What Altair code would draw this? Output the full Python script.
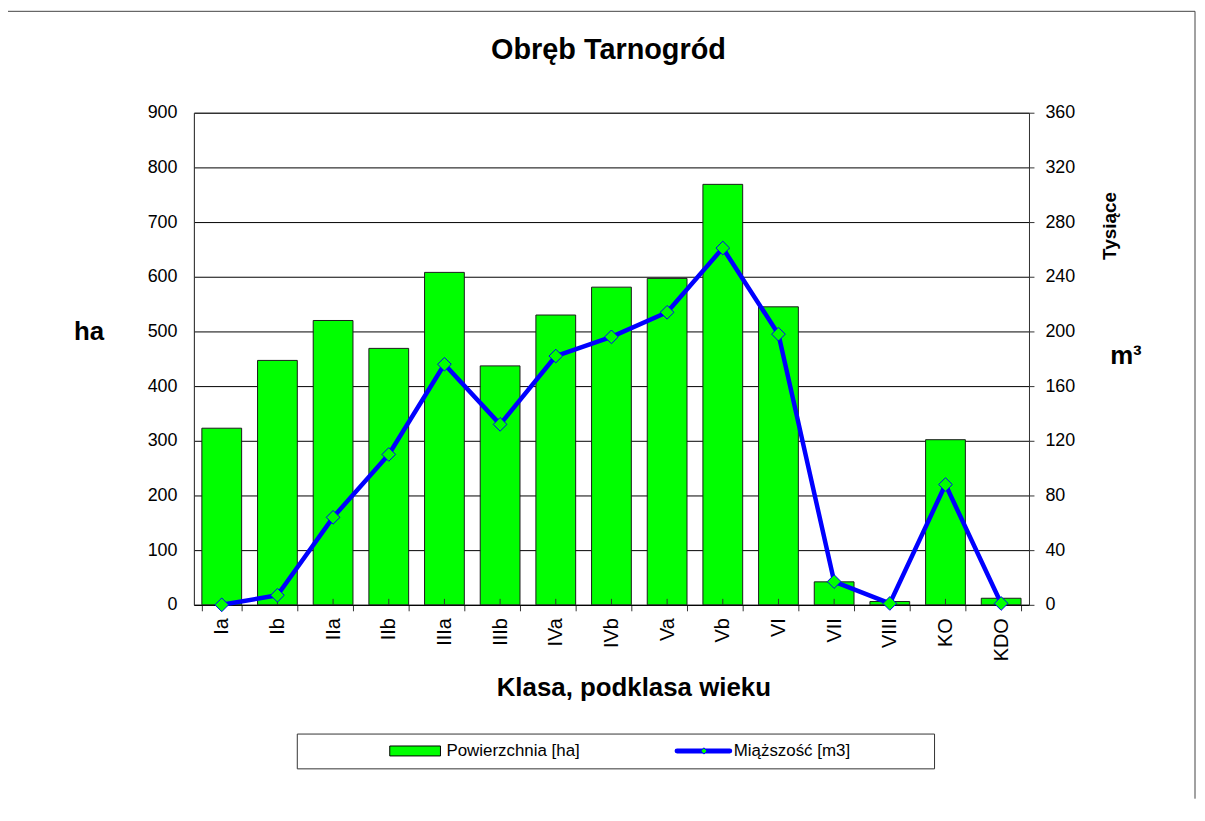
import altair as alt
import pandas as pd

categories = ["Ia", "Ib", "IIa", "IIb", "IIIa", "IIIb", "IVa", "IVb", "Va", "Vb", "VI", "VII", "VIII", "KO", "KDO"]
area_ha = [323, 447, 520, 469, 608, 437, 530, 581, 597, 769, 545, 42, 6, 302, 12]
volume_thousand_m3 = [0, 7, 64, 110, 176, 132, 182, 196, 214, 261, 198, 17, 1, 88, 1]
left_ticks = [0, 100, 200, 300, 400, 500, 600, 700, 800, 900]
right_ticks = [0, 40, 80, 120, 160, 200, 240, 280, 320, 360]

title_text = "Obręb Tarnogród"
x_title = "Klasa, podklasa wieku"
left_title = "ha"
right_title = "m³"
right_units = "Tysiące"
legend_bar = "Powierzchnia [ha]"
legend_line = "Miąższość [m3]"

df = pd.DataFrame({"klasa": categories, "ha": area_ha, "m3": volume_thousand_m3})
one = pd.DataFrame({"k": [0]})

W, H = 840, 495
FONT = "Liberation Sans"
GREEN = "#00FF00"
BLUE = "#0000FF"

x_scale = alt.Scale(paddingInner=0.2857, paddingOuter=0.1429)

bars = alt.Chart(df).mark_bar(fill=GREEN, stroke="#1a1a1a", strokeWidth=1).encode(
    x=alt.X("klasa:N", sort=categories, scale=x_scale, title=x_title,
            axis=alt.Axis(titleFontSize=26, titleFontWeight="bold", titleX=442, titleY=91,
                          titleAlign="center", titleBaseline="alphabetic",
                          labelAngle=270, labelAlign="right", labelBaseline="middle",
                          labelFontSize=20, labelPadding=7, tickSize=6, tickBand="extent",
                          tickColor="#333333", domainColor="#000000", grid=False)),
    y=alt.Y("ha:Q", scale=alt.Scale(domain=[0, 900], nice=False), title=left_title,
            axis=alt.Axis(values=left_ticks, titleAngle=0, titleX=-106, titleY=228,
                          titleAlign="center", titleBaseline="alphabetic", titleFontSize=26,
                          titleFontWeight="bold", grid=True, gridColor="#000000", gridWidth=1,
                          ticks=False, tickSize=0, labelPadding=17, labelFontSize=18,
                          domainColor="#333333")),
)

center_ticks = alt.Chart(df).mark_rule(color="#333333", strokeWidth=1).encode(
    x=alt.X("klasa:N", sort=categories, title=x_title),
    y=alt.value(H),
    y2=alt.value(H - 6),
)

line = alt.Chart(df).mark_line(
    color=BLUE, strokeWidth=4.5, strokeJoin="round",
    point=alt.OverlayMarkDef(shape="diamond", filled=True, fill=GREEN, stroke=BLUE,
                             strokeWidth=1, size=190, opacity=1),
).encode(
    x=alt.X("klasa:N", sort=categories, title=x_title),
    y=alt.Y("m3:Q", scale=alt.Scale(domain=[0, 360], nice=False), title=right_title,
            axis=alt.Axis(orient="right", values=right_ticks, titleAngle=0, titleX=97, titleY=252,
                          titleAlign="center", titleBaseline="alphabetic", titleFontSize=26,
                          titleFontWeight="bold", grid=False, tickSize=5, tickColor="#333333",
                          labelPadding=11, labelFontSize=18, domainColor="#333333")),
)

main = alt.layer(bars, center_ticks, line).resolve_scale(y="independent")

def txt(text, x, y, size, weight="normal", align="left", baseline="middle", angle=0):
    kw = dict(text=text, font=FONT, fontSize=size, fontWeight=weight, align=align,
              baseline=baseline, color="#000000")
    if angle:
        kw["angle"] = angle
    return alt.Chart(one).mark_text(**kw).encode(x=alt.value(x), y=alt.value(y))

title = txt(title_text, 417, -54, 29, "bold", "center", "alphabetic")
units = txt(right_units, 922, 114, 19, "bold", "center", "middle", angle=270)

legend_box = alt.Chart(one).mark_rect(fill="white", stroke="#333333", strokeWidth=1).encode(
    x=alt.value(104), x2=alt.value(745), y=alt.value(625), y2=alt.value(660))
legend_swatch = alt.Chart(one).mark_rect(fill=GREEN, stroke="#000000", strokeWidth=1).encode(
    x=alt.value(197), x2=alt.value(248), y=alt.value(637), y2=alt.value(647))
legend_t1 = txt(legend_bar, 254, 642, 17)
legend_rule = alt.Chart(one).mark_rule(color=BLUE, strokeWidth=5, strokeCap="round").encode(
    x=alt.value(486), x2=alt.value(539), y=alt.value(642))
legend_pt = alt.Chart(one).mark_point(shape="diamond", filled=True, fill=GREEN, stroke=BLUE,
                                      strokeWidth=1, size=40, opacity=1).encode(
    x=alt.value(513), y=alt.value(642))
legend_t2 = txt(legend_line, 543, 642, 17)

frame_left = alt.Chart(one).mark_rule(color="#444444", strokeWidth=1).encode(
    x=alt.value(-188), y=alt.value(-102), y2=alt.value(690))
frame_top = alt.Chart(one).mark_rule(color="#444444", strokeWidth=1).encode(
    x=alt.value(-188), x2=alt.value(1007), y=alt.value(-102))
frame_right = alt.Chart(one).mark_rule(color="#444444", strokeWidth=1).encode(
    x=alt.value(1007), y=alt.value(-102), y2=alt.value(690))

chart = alt.layer(
    main, title, units, legend_box, legend_swatch, legend_t1, legend_rule, legend_pt, legend_t2,
    frame_left, frame_top, frame_right,
).properties(
    width=W, height=H,
    autosize=alt.AutoSizeParams(type="none"),
    padding={"left": 187, "top": 103, "right": 169, "bottom": 195},
    background="white",
).configure_view(
    stroke="#808080", strokeWidth=1
).configure_axis(
    labelFont=FONT, titleFont=FONT, labelColor="#000000", titleColor="#000000"
)

chart.save("out.html", embed_options={"renderer": "svg", "actions": False})
